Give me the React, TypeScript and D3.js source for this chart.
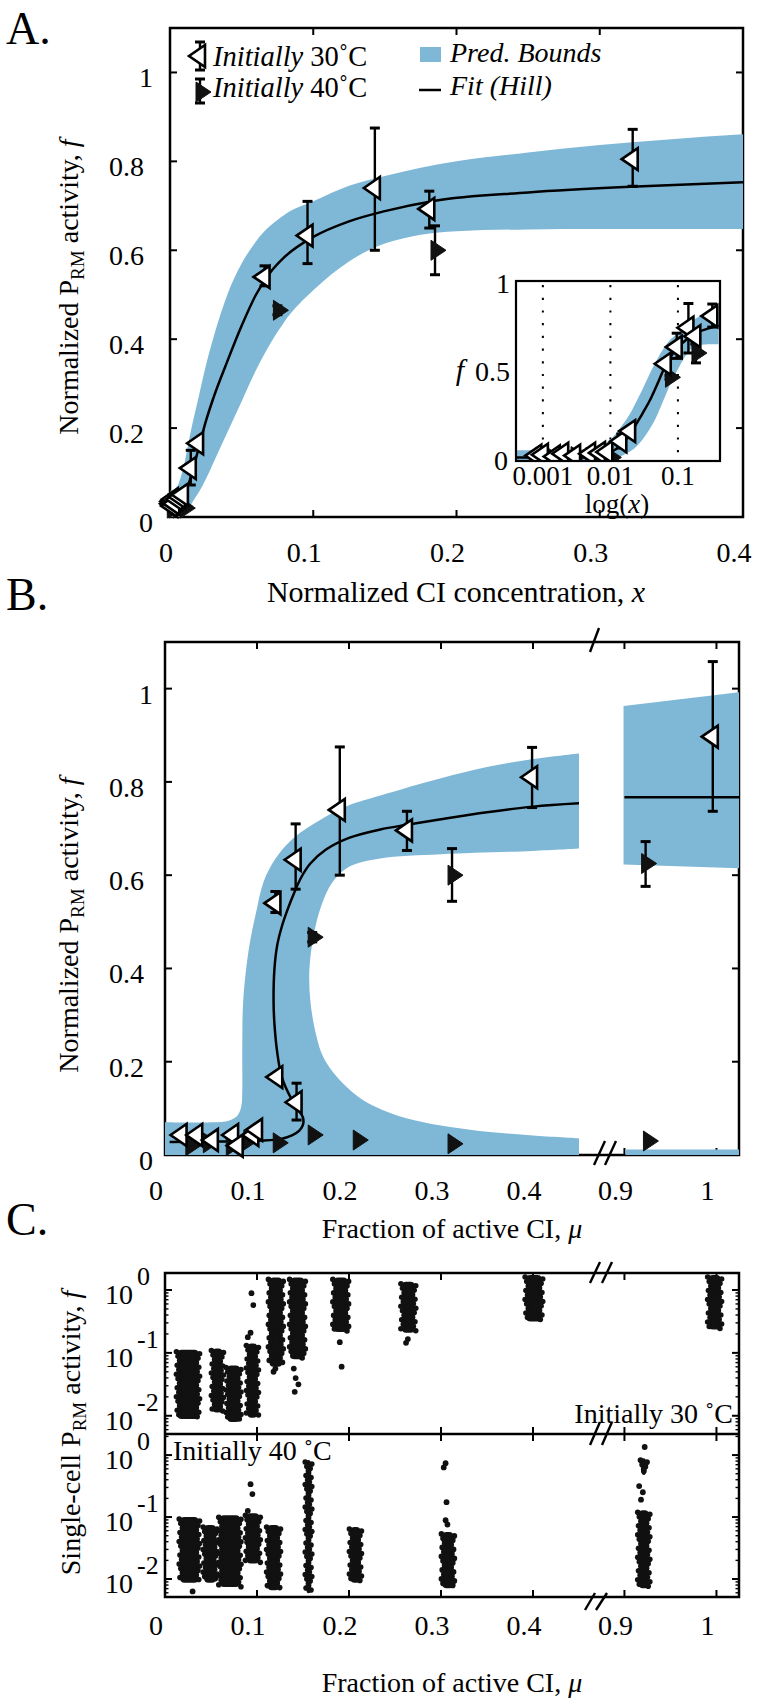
import React from 'react';
import * as d3 from 'd3';

const FONT = "'Liberation Serif', 'DejaVu Serif', serif";
const BLUE = '#7fb8d6';

// ---------- Panel A data (x = normalized CI concentration) ----------
const bandX = [0.0004, 0.001, 0.002, 0.004, 0.006, 0.008, 0.01, 0.0125, 0.015, 0.02, 0.025, 0.03, 0.04, 0.05, 0.06, 0.08, 0.1, 0.125, 0.15, 0.2, 0.25, 0.3, 0.35, 0.4];
const bandLo = [0, 0, 0, 0, 0, 0, 0.005, 0.015, 0.03, 0.055, 0.085, 0.12, 0.19, 0.26, 0.33, 0.44, 0.51, 0.575, 0.615, 0.643, 0.647, 0.648, 0.648, 0.648];
const bandHi = [0.06, 0.06, 0.06, 0.065, 0.075, 0.095, 0.12, 0.16, 0.2, 0.27, 0.34, 0.4, 0.5, 0.57, 0.62, 0.68, 0.71, 0.745, 0.767, 0.8, 0.82, 0.837, 0.85, 0.861];
const fitX = [0.0004, 0.001, 0.002, 0.004, 0.006, 0.008, 0.01, 0.0125, 0.015, 0.02, 0.025, 0.03, 0.04, 0.05, 0.06, 0.07, 0.08, 0.1, 0.125, 0.15, 0.184, 0.25, 0.33, 0.4];
const fitF = [0.02, 0.02, 0.022, 0.026, 0.032, 0.04, 0.05, 0.07, 0.095, 0.155, 0.215, 0.265, 0.35, 0.43, 0.5, 0.55, 0.585, 0.63, 0.665, 0.688, 0.711, 0.73, 0.744, 0.753];
// [x, f] low points without visible error bars
const a30Low = [[0.0008, 0.03], [0.001, 0.035], [0.0015, 0.025], [0.002, 0.04], [0.003, 0.03], [0.005, 0.04], [0.007, 0.045], [0.009, 0.05]];
const a40Low = [[0.0009, 0.02], [0.0012, 0.03], [0.002, 0.02], [0.003, 0.025], [0.005, 0.02], [0.008, 0.025], [0.01, 0.02]];
// [x, f, lo, hi]
const a30 = [[0.0145, 0.11, 0.072, 0.15], [0.0196, 0.166, 0.158, 0.175], [0.066, 0.54, 0.52, 0.565], [0.096, 0.633, 0.57, 0.71], [0.143, 0.74, 0.6, 0.875], [0.181, 0.693, 0.65, 0.733], [0.323, 0.805, 0.744, 0.872]];
const a40 = [[0.075, 0.465, 0.455, 0.475], [0.185, 0.6, 0.545, 0.655]];
const aXTicks = [0, 0.1, 0.2, 0.3, 0.4];
const fTicks = [0, 0.2, 0.4, 0.6, 0.8, 1];
const insetXTicks = [0.001, 0.01, 0.1];

// ---------- Panel B data (mu = fraction of active CI) ----------
const bBandOuter = [[0, 0.07], [0.05, 0.07], [0.07, 0.074], [0.079, 0.085], [0.083, 0.105], [0.084, 0.14], [0.084, 0.225], [0.085, 0.33], [0.091, 0.44], [0.099, 0.52], [0.107, 0.585], [0.12, 0.635], [0.14, 0.68], [0.17, 0.72], [0.2, 0.75], [0.234, 0.771], [0.3, 0.808], [0.35, 0.832], [0.4, 0.849], [0.45, 0.861]];
const bBandInner = [[0.45, 0.657], [0.4, 0.652], [0.3, 0.645], [0.234, 0.636], [0.2, 0.618], [0.182, 0.585], [0.17, 0.535], [0.162, 0.475], [0.157, 0.4], [0.158, 0.33], [0.164, 0.26], [0.172, 0.21], [0.187, 0.167], [0.21, 0.125], [0.237, 0.096], [0.27, 0.075], [0.31, 0.06], [0.35, 0.05], [0.4, 0.042], [0.45, 0.036]];
const bBandRight = [[0.899, 0.623], [1.0245, 0.615], [1.0245, 0.992], [0.899, 0.963]];
const bBandRightLow = [[0.901, 0], [1.0245, 0], [1.0245, 0.012], [0.901, 0.012]];
const bFit = [[0.005, 0.028], [0.05, 0.029], [0.09, 0.03], [0.125, 0.034], [0.138, 0.042], [0.146, 0.052], [0.15, 0.065], [0.15, 0.08], [0.145, 0.097], [0.138, 0.118], [0.127, 0.167], [0.122, 0.22], [0.119, 0.28], [0.118, 0.33], [0.119, 0.4], [0.122, 0.45], [0.127, 0.49], [0.133, 0.525], [0.14, 0.56], [0.148, 0.595], [0.158, 0.625], [0.175, 0.655], [0.2, 0.68], [0.234, 0.698], [0.263, 0.708], [0.3, 0.72], [0.35, 0.735], [0.4, 0.747], [0.45, 0.754]];
const bFitRight = [[0.9, 0.767], [1.0245, 0.767]];
const b30Low = [[0.018, 0.043], [0.035, 0.043], [0.052, 0.032], [0.074, 0.043], [0.079, 0.02], [0.096, 0.043], [0.1, 0.054]];
const b40Low = [[0.027, 0.02], [0.046, 0.026], [0.071, 0.02], [0.09, 0.032], [0.122, 0.026], [0.16, 0.043], [0.209, 0.032], [0.312, 0.024], [0.925, 0.03]];
const b30 = [[0.143, 0.113, 0.075, 0.154], [0.122, 0.167, 0.16, 0.175], [0.12, 0.54, 0.52, 0.565], [0.142, 0.633, 0.57, 0.71], [0.19, 0.74, 0.6, 0.875], [0.263, 0.696, 0.653, 0.737], [0.399, 0.81, 0.745, 0.874], [0.996, 0.897, 0.737, 1.058]];
const b40 = [[0.16, 0.467, 0.457, 0.477], [0.312, 0.6, 0.544, 0.657], [0.923, 0.625, 0.576, 0.672]];
const muTicks = [0, 0.1, 0.2, 0.3, 0.4, 0.9, 1];
const muTickLabels = ['0', '0.1', '0.2', '0.3', '0.4', '0.9', '1'];

// ---------- Panel C data: single-cell clouds [muLo, muHi, log10 fLo, log10 fHi] ----------
const c30Cols = [[0.012, 0.038, -2.05, -0.95], [0.05, 0.064, -1.95, -0.93], [0.066, 0.083, -2.1, -1.2], [0.088, 0.102, -2.03, -0.85], [0.112, 0.129, -1.22, 0.2], [0.135, 0.153, -1.1, 0.2], [0.182, 0.2, -0.67, 0.2], [0.256, 0.273, -0.68, 0.13], [0.391, 0.411, -0.5, 0.27], [0.99, 1.006, -0.63, 0.24]];
const c30Dots = [[0.094, -0.05], [0.096, -0.24], [0.093, -0.68], [0.09, -0.75], [0.118, -1.3], [0.12, -1.25], [0.14, -1.25], [0.142, -1.4], [0.145, -1.5], [0.141, -1.62], [0.19, -0.83], [0.192, -1.22], [0.262, -0.84], [0.264, -0.78]];
const c40Cols = [[0.015, 0.038, -2.06, -1.0], [0.041, 0.057, -2.06, -1.13], [0.058, 0.083, -2.13, -0.97], [0.087, 0.104, -1.75, -0.94], [0.11, 0.126, -2.18, -1.13], [0.152, 0.16, -2.23, -0.08], [0.2, 0.214, -2.06, -1.16], [0.3, 0.315, -2.15, -1.24], [0.914, 0.928, -2.15, -0.89], [0.917, 0.925, -0.32, -0.05]];
const c40Dots = [[0.03, -2.2], [0.093, -0.47], [0.095, -0.63], [0.09, -0.9], [0.305, -0.13], [0.303, -0.2], [0.306, -0.76], [0.305, -1.05], [0.307, -1.12], [0.922, 0.13], [0.916, -0.5], [0.92, -0.6], [0.918, -0.72]];
const cDecades = [0, -1, -2];

// ---------- geometry ----------
const A = { l: 170, r: 743, t: 28, b: 517 };
const xA = d3.scaleLinear().domain([0, 0.4]).range([A.l, A.r]);
const yA = d3.scaleLinear().domain([0, 1.1]).range([A.b, A.t]);
const I = { l: 516, r: 720, t: 281, b: 461 };
const xI = d3.scaleLog().domain([0.0004, 0.42]).range([I.l, I.r]);
const yI = d3.scaleLinear().domain([0, 1]).range([I.b, I.t]);
const B = { l: 165, r: 739, t: 642, b: 1155 };
const xB1 = d3.scaleLinear().domain([0, 0.4674]).range([165, 595]);
const xB2 = d3.scaleLinear().domain([0.868, 1.0245]).range([595, 739]);
const xB = (m: number) => (m < 0.6 ? xB1(m) : xB2(m));
const yB = d3.scaleLinear().domain([0, 1.1]).range([B.b, B.t]);
const C = { l: 165, r: 739, t: 1273, m: 1434, b: 1597 };
const yC1 = d3.scaleLog().domain([Math.pow(10, -2.29), Math.pow(10, 0.27)]).range([C.m, C.t]);
const yC2 = d3.scaleLog().domain([Math.pow(10, -2.29), Math.pow(10, 0.34)]).range([C.b, C.m]);

const SW = 2.5;
const TFS = 28; // tick font size

function TriL({ x, y }: { x: number; y: number }) {
  return <path d={`M${x - 11},${y} L${x + 5},${y - 11} L${x + 5},${y + 11} Z`} fill="white" stroke="black" strokeWidth={2.6} strokeLinejoin="miter" />;
}
function TriR({ x, y }: { x: number; y: number }) {
  return <path d={`M${x - 4},${y - 10} L${x + 11},${y} L${x - 4},${y + 10} Z`} fill="#111" stroke="#111" strokeWidth={1} />;
}
function EBar({ x, y1, y2 }: { x: number; y1: number; y2: number }) {
  return (
    <g stroke="black">
      <line x1={x} x2={x} y1={y1} y2={y2} strokeWidth={2.4} />
      <line x1={x - 5} x2={x + 5} y1={y1} y2={y1} strokeWidth={3} />
      <line x1={x - 5} x2={x + 5} y1={y2} y2={y2} strokeWidth={3} />
    </g>
  );
}

function Points({ w, f, low, sx, sy }: any) {
  return (
    <g>
      {f.map((d: number[], i: number) => <EBar key={'fe' + i} x={sx(d[0])} y1={sy(d[3])} y2={sy(d[2])} />)}
      {w.map((d: number[], i: number) => <EBar key={'we' + i} x={sx(d[0])} y1={sy(d[3])} y2={sy(d[2])} />)}
      {low.f.map((d: number[], i: number) => <TriR key={'fl' + i} x={sx(d[0])} y={sy(d[1])} />)}
      {f.map((d: number[], i: number) => <TriR key={'f' + i} x={sx(d[0])} y={sy(d[1])} />)}
      {low.w.map((d: number[], i: number) => <TriL key={'wl' + i} x={sx(d[0])} y={sy(d[1])} />)}
      {w.map((d: number[], i: number) => <TriL key={'w' + i} x={sx(d[0])} y={sy(d[1])} />)}
    </g>
  );
}

function Slash({ x1, y1, x2, y2 }: any) {
  return <line x1={x1} y1={y1} x2={x2} y2={y2} stroke="black" strokeWidth={2.4} />;
}

export default function App() {
  const tickLen = 7;
  const areaA = d3.area<number>().x((_, i) => xA(bandX[i])).y0((_, i) => yA(bandLo[i])).y1((_, i) => yA(bandHi[i])).curve(d3.curveMonotoneX);
  const areaI = d3.area<number>().x((_, i) => xI(bandX[i])).y0((_, i) => yI(bandLo[i])).y1((_, i) => yI(bandHi[i])).curve(d3.curveMonotoneX);
  const lineA = d3.line<number>().x((_, i) => xA(fitX[i])).y((_, i) => yA(fitF[i])).curve(d3.curveMonotoneX);
  const lineI = d3.line<number>().x((_, i) => xI(fitX[i])).y((_, i) => yI(fitF[i])).curve(d3.curveMonotoneX);
  const polyB = d3.line<number[]>().x((d) => xB(d[0])).y((d) => yB(d[1])).curve(d3.curveLinearClosed);
  const smoothB = d3.line<number[]>().x((d) => xB(d[0])).y((d) => yB(d[1])).curve(d3.curveCatmullRom.alpha(0.5));

  const outerD = smoothB(bBandOuter) || '';
  const innerD = smoothB(bBandInner) || '';
  const bandLeftD = `M${xB(0)},${yB(0)}L${outerD.slice(1)}L${innerD.slice(1)}L${xB(0.45)},${yB(0)}Z`;

  const yLabelX = (s: string) => (s.includes('.') ? 144 : 153);

  const minorLog: number[] = [];
  for (let d = -3; d <= 0; d++) for (let k = 2; k <= 9; k++) minorLog.push(k * Math.pow(10, d));

  const cloud = (cols: number[][], dots: number[][], sy: any, key: string, lo: number, hi: number) => (
    <g key={key} fill="#111">
      {cols.map((c, i) => {
        const x0 = xB(c[0]);
        const x1 = xB(c[1]);
        const yTop = Math.max(sy(Math.pow(10, c[3])), hi + 2);
        const yBot = Math.min(sy(Math.pow(10, c[2])), lo - 2);
        const w = x1 - x0;
        const edge: React.ReactNode[] = [];
        let k = 0;
        for (let y = yTop + 2; y <= yBot - 2; y += 4.5, k++) {
          const o = ((k * 7) % 5) - 2;
          edge.push(<circle key={'l' + k} cx={x0 + 2 + o * 0.8} cy={y} r={2.8} />);
          edge.push(<circle key={'r' + k} cx={x1 - 2 - o * 0.8} cy={y + 2} r={2.8} />);
        }
        return (
          <g key={i}>
            <rect x={x0 + 1.5} y={yTop} width={Math.max(w - 3, 2)} height={yBot - yTop} rx={Math.min(w / 2, 4)} />
            {edge}
          </g>
        );
      })}
      {dots.map((d, i) => <circle key={'d' + i} cx={xB(d[0])} cy={sy(Math.pow(10, d[1]))} r={2.9} />)}
    </g>
  );

  const cYLabels = (sy: any, key: string) => (
    <g key={key}>
      {cDecades.map((d) => {
        const y = sy(Math.pow(10, d));
        return (
          <g key={d}>
            <text x={133} y={y + 14} fontSize={TFS} textAnchor="end">10</text>
            <text x={137} y={y - 5} fontSize={26} textAnchor="start">{String(d)}</text>
          </g>
        );
      })}
    </g>
  );

  const cLogTicks = (sy: any, key: string, top: number, bottom: number) => (
    <g key={key} stroke="black">
      {cDecades.map((d) => {
        const y = sy(Math.pow(10, d));
        return (
          <g key={d}>
            <line x1={C.l} x2={C.l + tickLen} y1={y} y2={y} strokeWidth={2} />
            <line x1={C.r} x2={C.r - tickLen} y1={y} y2={y} strokeWidth={2} />
          </g>
        );
      })}
      {minorLog.map((v, i) => {
        const y = sy(v);
        if (y < top + 1 || y > bottom - 1) return null;
        return (
          <g key={'m' + i}>
            <line x1={C.l} x2={C.l + 3.5} y1={y} y2={y} strokeWidth={1.4} />
            <line x1={C.r} x2={C.r - 3.5} y1={y} y2={y} strokeWidth={1.4} />
          </g>
        );
      })}
    </g>
  );

  const yLabel = (x: number, y: number, first: string, fsz: number) => (
    <text transform={`translate(${x},${y}) rotate(-90)`} fontSize={fsz} textAnchor="middle">
      {first} P<tspan fontSize={fsz * 0.68} dy={6}>RM</tspan><tspan dy={-6}> activity,  </tspan><tspan fontStyle="italic">f</tspan>
    </text>
  );

  return (
    <div style={{ position: 'absolute', left: 0, top: 0 }}>
      <svg width={758} height={1703} viewBox="0 0 758 1703" style={{ display: 'block', background: 'white' }} fontFamily={FONT}>
        <defs>
          <clipPath id="clipI"><rect x={I.l} y={I.t} width={I.r - I.l} height={I.b - I.t} /></clipPath>
          <clipPath id="clipA"><rect x={A.l} y={A.t} width={A.r - A.l} height={A.b - A.t} /></clipPath>
        </defs>
        <rect x={0} y={0} width={758} height={1703} fill="white" />

        {/* ================= PANEL A ================= */}
        <text x={6} y={44} fontSize={46}>A.</text>
        <g stroke="black" strokeWidth={2}>
          {aXTicks.slice(1, -1).map((t) => (
            <g key={t}>
              <line x1={xA(t)} x2={xA(t)} y1={A.b} y2={A.b - tickLen} />
              <line x1={xA(t)} x2={xA(t)} y1={A.t} y2={A.t + tickLen} />
            </g>
          ))}
          {fTicks.slice(1).map((t) => (
            <g key={t}>
              <line x1={A.l} x2={A.l + tickLen} y1={yA(t)} y2={yA(t)} />
              <line x1={A.r} x2={A.r - tickLen} y1={yA(t)} y2={yA(t)} />
            </g>
          ))}
        </g>
        <rect x={A.l} y={A.t} width={A.r - A.l} height={A.b - A.t} fill="none" stroke="black" strokeWidth={SW} />
        <path d={areaA(bandX) || ''} fill={BLUE} clipPath="url(#clipA)" />
        <path d={lineA(fitX) || ''} fill="none" stroke="black" strokeWidth={2.5} />
        <Points w={a30} f={a40} low={{ w: a30Low, f: a40Low }} sx={xA} sy={yA} />
        {fTicks.map((t) => {
          const s = String(t);
          return <text key={t} x={yLabelX(s)} y={yA(t) + 15} fontSize={TFS} textAnchor="end">{s}</text>;
        })}
        {aXTicks.map((t) => (
          <text key={t} x={xA(t) - (t === 0 ? 4 : 9)} y={552 + 10} fontSize={TFS} textAnchor="middle">{String(t)}</text>
        ))}
        <text x={456} y={592 + 10} fontSize={30} textAnchor="middle">
          Normalized CI concentration, <tspan fontStyle="italic">x</tspan>
        </text>
        {yLabel(78, 287, 'Normalized', 28)}

        {/* legend A */}
        <EBar x={200} y1={42} y2={70} />
        <TriL x={200} y={56} />
        <EBar x={200} y1={79} y2={103} />
        <TriR x={200} y={92} />
        <text x={213} y={66} fontSize={28.5}><tspan fontStyle="italic">Initially</tspan> 30˚C</text>
        <text x={213} y={97} fontSize={28.5}><tspan fontStyle="italic">Initially</tspan> 40˚C</text>
        <rect x={420} y={47} width={21} height={15} fill={BLUE} />
        <text x={450} y={62} fontSize={28} fontStyle="italic">Pred. Bounds</text>
        <line x1={419} x2={441} y1={90} y2={90} stroke="black" strokeWidth={2.5} />
        <text x={450} y={95} fontSize={28} fontStyle="italic">Fit (Hill)</text>

        {/* inset */}
        <rect x={I.l} y={I.t} width={I.r - I.l} height={I.b - I.t} fill="white" />
        {insetXTicks.map((t) => (
          <line key={t} x1={xI(t)} x2={xI(t)} y1={I.t + 4} y2={I.b} stroke="black" strokeWidth={2} strokeDasharray="2.2,10.5" />
        ))}
        <g clipPath="url(#clipI)">
          <path d={areaI(bandX) || ''} fill={BLUE} />
          <path d={lineI(fitX) || ''} fill="none" stroke="black" strokeWidth={2.5} />
          <Points w={a30} f={a40} low={{ w: a30Low, f: a40Low }} sx={xI} sy={yI} />
        </g>
        <rect x={I.l} y={I.t} width={I.r - I.l} height={I.b - I.t} fill="none" stroke="black" strokeWidth={2.2} />
        <text x={510} y={yI(1) + 12} fontSize={TFS} textAnchor="end">1</text>
        <text x={510} y={yI(0.5) + 10} fontSize={TFS} textAnchor="end">0.5</text>
        <text x={508} y={yI(0) + 9} fontSize={TFS} textAnchor="end">0</text>
        <text x={460} y={yI(0.5) + 9} fontSize={30} fontStyle="italic" textAnchor="middle">f</text>
        {insetXTicks.map((t) => (
          <text key={t} x={xI(t)} y={476 + 9} fontSize={27} textAnchor="middle">{String(t)}</text>
        ))}
        <text x={617} y={504 + 9} fontSize={27} textAnchor="middle">log(<tspan fontStyle="italic">x</tspan>)</text>

        {/* ================= PANEL B ================= */}
        <text x={6} y={610} fontSize={46}>B.</text>
        <g stroke="black" strokeWidth={2}>
          {muTicks.slice(1).map((t) => (
            <g key={t}>
              <line x1={xB(t)} x2={xB(t)} y1={B.b} y2={B.b - tickLen} />
              <line x1={xB(t)} x2={xB(t)} y1={B.t} y2={B.t + tickLen} />
            </g>
          ))}
          {fTicks.slice(1).map((t) => (
            <g key={t}>
              <line x1={B.l} x2={B.l + tickLen} y1={yB(t)} y2={yB(t)} />
              <line x1={B.r} x2={B.r - tickLen} y1={yB(t)} y2={yB(t)} />
            </g>
          ))}
        </g>
        <rect x={B.l} y={B.t} width={B.r - B.l} height={B.b - B.t} fill="none" stroke="black" strokeWidth={SW} />
        <path d={bandLeftD} fill={BLUE} />
        <path d={polyB(bBandRight) || ''} fill={BLUE} />
        <path d={polyB(bBandRightLow) || ''} fill={BLUE} />
        <path d={smoothB(bFit) || ''} fill="none" stroke="black" strokeWidth={2.5} />
        <path d={smoothB(bFitRight) || ''} fill="none" stroke="black" strokeWidth={2.5} />
        <Points w={b30} f={b40} low={{ w: b30Low, f: b40Low }} sx={xB} sy={yB} />
        <Slash x1={590} y1={652} x2={599} y2={628} />
        <Slash x1={594} y1={1165} x2={605} y2={1141} />
        <Slash x1={605} y1={1165} x2={616} y2={1141} />
        {fTicks.map((t) => {
          const s = String(t);
          return <text key={t} x={yLabelX(s)} y={yB(t) + 15} fontSize={TFS} textAnchor="end">{s}</text>;
        })}
        {muTicks.map((t, i) => (
          <text key={t} x={xB(t) - 9} y={1190 + 10} fontSize={TFS} textAnchor="middle">{muTickLabels[i]}</text>
        ))}
        <text x={452} y={1228 + 10} fontSize={28} textAnchor="middle">
          Fraction of active CI, <tspan fontStyle="italic">μ</tspan>
        </text>
        {yLabel(78, 925, 'Normalized', 28)}

        {/* ================= PANEL C ================= */}
        <text x={6} y={1235} fontSize={46}>C.</text>
        <g stroke="black" strokeWidth={2}>
          {muTicks.slice(1).map((t) => (
            <g key={t}>
              <line x1={xB(t)} x2={xB(t)} y1={C.t} y2={C.t + tickLen} />
              <line x1={xB(t)} x2={xB(t)} y1={C.m - tickLen} y2={C.m + tickLen} />
              <line x1={xB(t)} x2={xB(t)} y1={C.b} y2={C.b - tickLen} />
            </g>
          ))}
        </g>
        {cLogTicks(yC1, 'lt1', C.t, C.m)}
        {cLogTicks(yC2, 'lt2', C.m, C.b)}
        <rect x={C.l} y={C.t} width={C.r - C.l} height={C.b - C.t} fill="none" stroke="black" strokeWidth={SW} />
        <line x1={C.l} x2={C.r} y1={C.m} y2={C.m} stroke="black" strokeWidth={SW} />
        {cloud(c30Cols, c30Dots, yC1, 'c1', C.m, C.t)}
        {cloud(c40Cols, c40Dots, yC2, 'c2', C.b, C.m)}
        <Slash x1={590} y1={1283} x2={600} y2={1262} />
        <Slash x1={602} y1={1283} x2={612} y2={1262} />
        <Slash x1={590} y1={1445} x2={600} y2={1422} />
        <Slash x1={602} y1={1445} x2={612} y2={1422} />
        <Slash x1={585} y1={1610} x2={595} y2={1593} />
        <Slash x1={596} y1={1610} x2={607} y2={1593} />
        <text x={733} y={1423} fontSize={28} textAnchor="end">Initially 30 ˚C</text>
        <text x={173} y={1460} fontSize={28} textAnchor="start">Initially 40 ˚C</text>
        {cYLabels(yC1, 'yl1')}
        {cYLabels(yC2, 'yl2')}
        {muTicks.map((t, i) => (
          <text key={t} x={xB(t) - 9} y={1625 + 10} fontSize={TFS} textAnchor="middle">{muTickLabels[i]}</text>
        ))}
        <text x={452} y={1682 + 10} fontSize={28} textAnchor="middle">
          Fraction of active CI, <tspan fontStyle="italic">μ</tspan>
        </text>
        {yLabel(80, 1433, 'Single-cell', 28)}
      </svg>
    </div>
  );
}
